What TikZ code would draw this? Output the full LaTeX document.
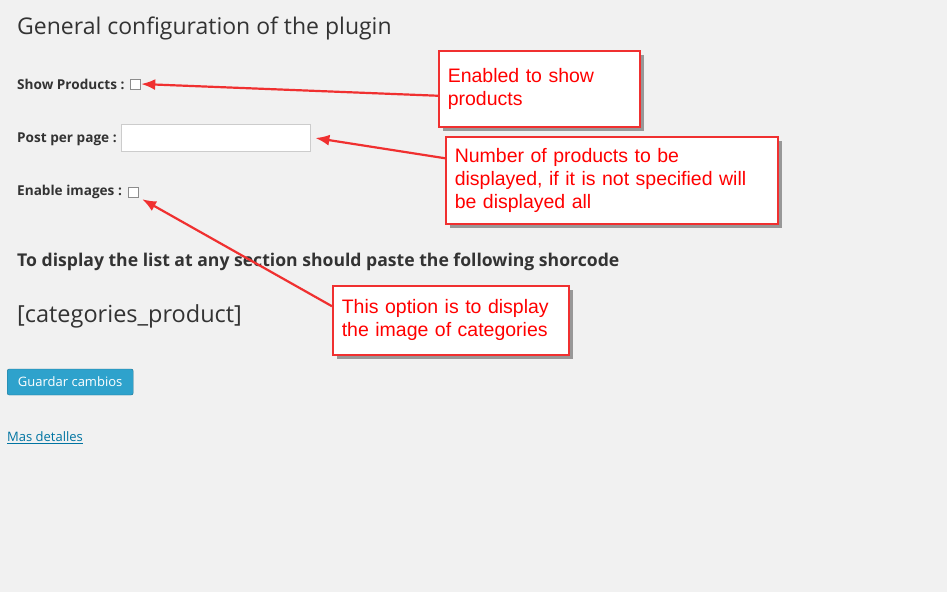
\documentclass[tikz,border=0pt]{standalone}
\usepackage{fontspec}
\setmainfont{Open Sans}
\newfontfamily\callfont{Liberation Sans}
\usetikzlibrary{shadows,arrows.meta}
\definecolor{pagebg}{HTML}{F1F1F1}
\definecolor{wpblue}{HTML}{2EA2CC}
\definecolor{linkblue}{HTML}{0074A2}
\definecolor{calred}{HTML}{F03030}
\tikzset{
  lbl/.style={anchor=west, inner sep=0, font=\fontsize{13.6}{16}\selectfont\bfseries, text=black!80},
  chk/.style={draw=black!45, fill=white, minimum size=10pt, inner sep=0},
  callout/.style={draw=calred, line width=1.5pt, fill=white, anchor=north west, align=left,
    inner xsep=9pt, inner ysep=2pt, text=red, font=\callfont\fontsize{19.5}{23}\selectfont,
    drop shadow={shadow xshift=4pt, shadow yshift=-4pt, fill=black!75}},
  pointer/.style={calred, line width=2.2pt, -{Latex[length=14pt,width=11pt]}}
}
\begin{document}
\begin{tikzpicture}[x=1pt,y=-1pt]
\fill[pagebg] (0,0) rectangle (947,592);
\useasboundingbox (0,0) rectangle (947,592);

\node[anchor=west, inner sep=0, font=\fontsize{23}{27}\selectfont, text=black!80] (title) at (17,28) {General configuration of the plugin};

\node[lbl] (showlbl) at (17,84) {Show Products :};
\node[chk] (showchk) at (135,84) {};
\node[lbl] (postlbl) at (17,139) {Post per page :};
\node[draw=black!20, fill=white, minimum width=189pt, minimum height=27pt, anchor=west] (postbox) at (121,138) {};
\node[lbl] (imglbl) at (17,192) {Enable images :};
\node[chk] (imgchk) at (133,192) {};

\node[lbl, font=\fontsize{17.6}{20}\selectfont\bfseries] (hint) at (17,262) {To display the list at any section should paste the following shorcode};
\node[anchor=west, inner sep=0, font=\fontsize{23.5}{27}\selectfont, text=black!80] (code) at (17,316) {[categories\_product]};

\node[fill=wpblue, draw=wpblue!70!black, rounded corners=2pt, minimum width=126pt, minimum height=26pt,
  text=white, font=\fontsize{13}{15}\selectfont, anchor=west] (save) at (7,382) {Guardar cambios};
\node[anchor=west, inner sep=0, text=linkblue, font=\fontsize{13}{15}\selectfont] (more) at (7,438) {\underline{Mas detalles}};

\node[callout, text width=183pt, minimum height=76pt] (c1) at (438,50) {\\[-8pt]Enabled to show\\products\\[10pt]};
\node[callout, text width=314pt, minimum height=87pt] (c2) at (445,136) {Number of products to be\\displayed, if it is not specified will\\be displayed all};
\node[callout, text width=218pt, minimum height=69pt] (c3) at (332,285) {\\[-10pt]This option is to display\\the image of categories\\[8pt]};

\draw[pointer] ([yshift=-7pt]c1.west) -- ([xshift=1pt]showchk.east);
\draw[pointer] ([yshift=22pt]c2.west) -- ([xshift=5pt]postbox.east);
\draw[pointer] ([yshift=14pt]c3.west) -- ([xshift=4pt,yshift=-2pt]imgchk.south east);
\end{tikzpicture}
\end{document}
